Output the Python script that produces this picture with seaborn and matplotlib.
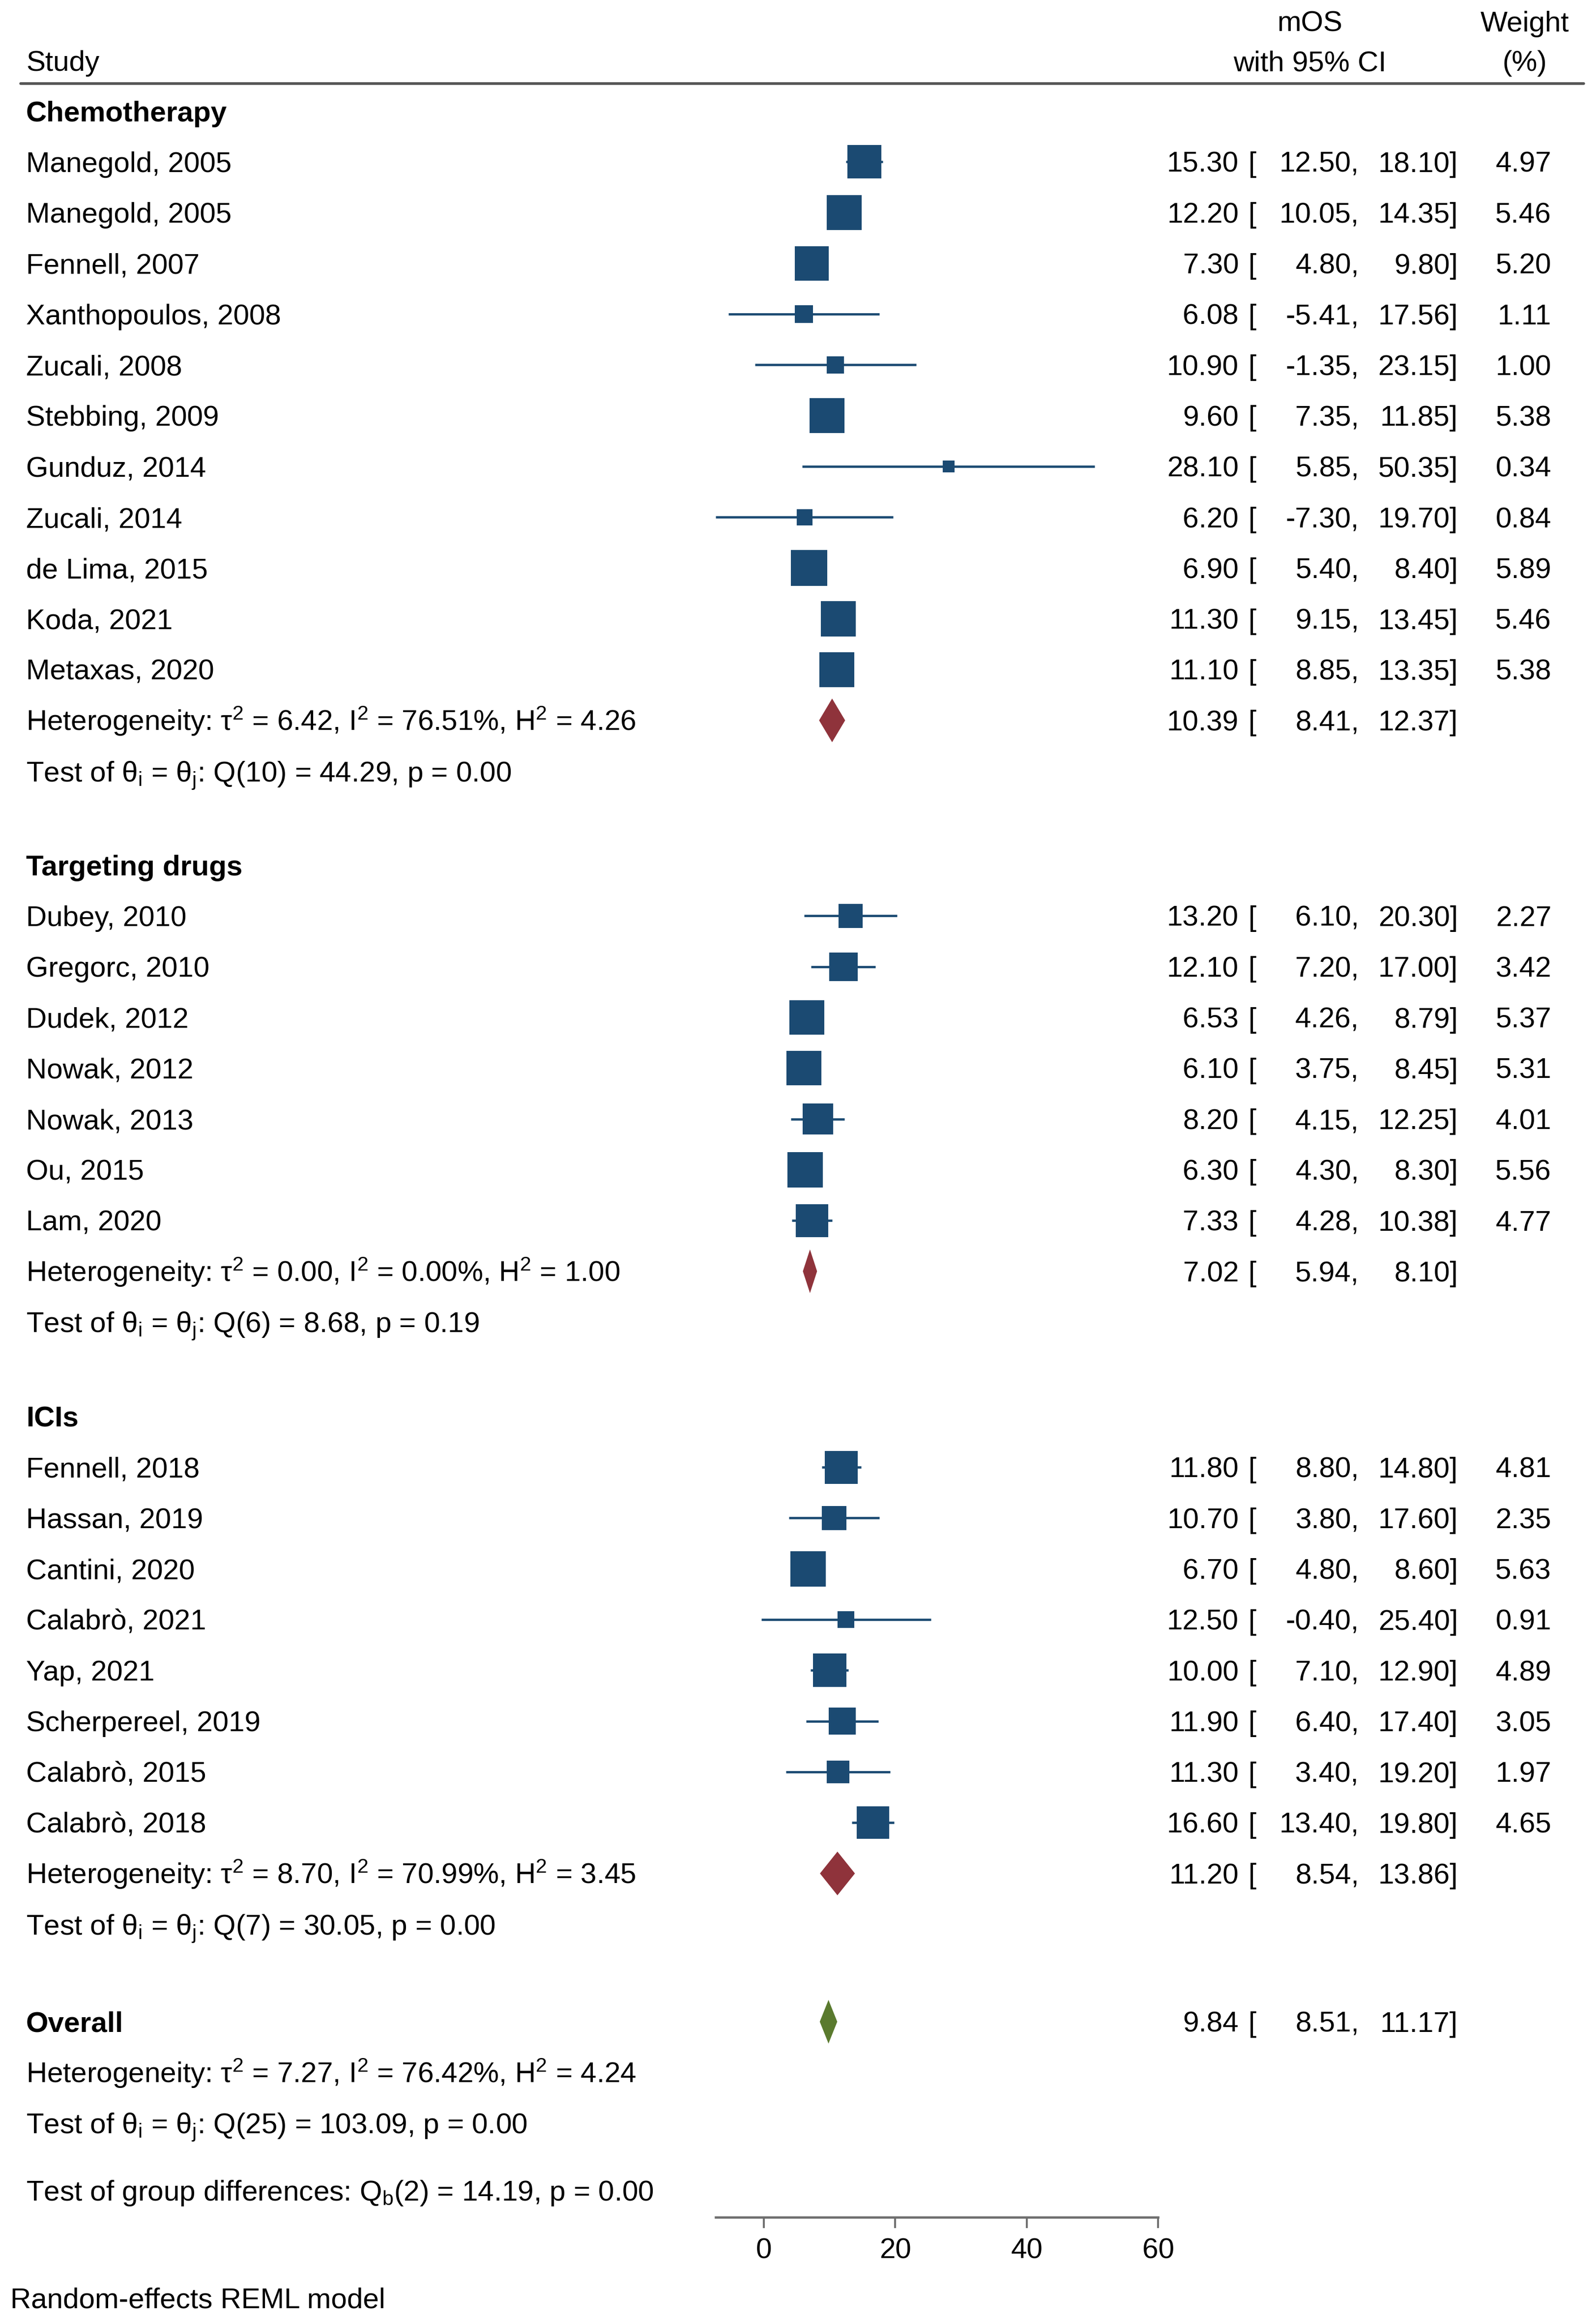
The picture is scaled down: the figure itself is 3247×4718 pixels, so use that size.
import numpy as np
import pandas as pd
import matplotlib.pyplot as plt
import seaborn as sns
from matplotlib import transforms

# --- data ---
chemo_studies = ['Manegold, 2005', 'Manegold, 2005', 'Fennell, 2007', 'Xanthopoulos, 2008',
                 'Zucali, 2008', 'Stebbing, 2009', 'Gunduz, 2014', 'Zucali, 2014',
                 'de Lima, 2015', 'Koda, 2021', 'Metaxas, 2020']
chemo_mos = [15.30, 12.20, 7.30, 6.08, 10.90, 9.60, 28.10, 6.20, 6.90, 11.30, 11.10]
chemo_lo = [12.50, 10.05, 4.80, -5.41, -1.35, 7.35, 5.85, -7.30, 5.40, 9.15, 8.85]
chemo_hi = [18.10, 14.35, 9.80, 17.56, 23.15, 11.85, 50.35, 19.70, 8.40, 13.45, 13.35]
chemo_w = [4.97, 5.46, 5.20, 1.11, 1.00, 5.38, 0.34, 0.84, 5.89, 5.46, 5.38]
chemo_pooled = [10.39, 8.41, 12.37]
chemo_het = [6.42, 76.51, 4.26]
chemo_q = [10, 44.29, 0.00]

target_studies = ['Dubey, 2010', 'Gregorc, 2010', 'Dudek, 2012', 'Nowak, 2012',
                  'Nowak, 2013', 'Ou, 2015', 'Lam, 2020']
target_mos = [13.20, 12.10, 6.53, 6.10, 8.20, 6.30, 7.33]
target_lo = [6.10, 7.20, 4.26, 3.75, 4.15, 4.30, 4.28]
target_hi = [20.30, 17.00, 8.79, 8.45, 12.25, 8.30, 10.38]
target_w = [2.27, 3.42, 5.37, 5.31, 4.01, 5.56, 4.77]
target_pooled = [7.02, 5.94, 8.10]
target_het = [0.00, 0.00, 1.00]
target_q = [6, 8.68, 0.19]

ici_studies = ['Fennell, 2018', 'Hassan, 2019', 'Cantini, 2020', 'Calabrò, 2021',
               'Yap, 2021', 'Scherpereel, 2019', 'Calabrò, 2015', 'Calabrò, 2018']
ici_mos = [11.80, 10.70, 6.70, 12.50, 10.00, 11.90, 11.30, 16.60]
ici_lo = [8.80, 3.80, 4.80, -0.40, 7.10, 6.40, 3.40, 13.40]
ici_hi = [14.80, 17.60, 8.60, 25.40, 12.90, 17.40, 19.20, 19.80]
ici_w = [4.81, 2.35, 5.63, 0.91, 4.89, 3.05, 1.97, 4.65]
ici_pooled = [11.20, 8.54, 13.86]
ici_het = [8.70, 70.99, 3.45]
ici_q = [7, 30.05, 0.00]

overall_pooled = [9.84, 8.51, 11.17]
overall_het = [7.27, 76.42, 4.24]
overall_q = [25, 103.09, 0.00]
group_diff = [2, 14.19, 0.00]

tick_values = [0, 20, 40, 60]

groups = [
    ('Chemotherapy', chemo_studies, chemo_mos, chemo_lo, chemo_hi, chemo_w, chemo_pooled, chemo_het, chemo_q),
    ('Targeting drugs', target_studies, target_mos, target_lo, target_hi, target_w, target_pooled, target_het, target_q),
    ('ICIs', ici_studies, ici_mos, ici_lo, ici_hi, ici_w, ici_pooled, ici_het, ici_q),
]
gaps_after = [1.85, 1.86, 1.92]

NAVY = '#1b4a72'
RED = '#8f333b'
GREEN = '#5a7a2e'
FS = 42
W, H = 3247, 4718

sns.set_theme(style='white')
plt.rcParams['font.family'] = ['Liberation Sans', 'DejaVu Sans']
plt.rcParams['mathtext.fontset'] = 'custom'
plt.rcParams['mathtext.rm'] = 'Liberation Sans'
plt.rcParams['mathtext.it'] = 'Liberation Sans:italic'
plt.rcParams['mathtext.bf'] = 'Liberation Sans:bold'

fig = plt.figure(figsize=(W / 100, H / 100), dpi=100)
ax = fig.add_axes([0, 0, 1, 1])
blend = transforms.blended_transform_factory(ax.transAxes, ax.transData)


def put(xpx, y, s, ha='left', **kw):
    ax.text(xpx / W, y + 0.2, s, transform=blend, ha=ha, va='baseline',
            fontsize=FS, color='black', **kw)


def nums(y, est, lo, hi, w=None):
    put(2520, y, f'{est:.2f}', ha='right')
    put(2540, y, '[')
    put(2765, y, f'{lo:.2f},', ha='right')
    put(2966, y, f'{hi:.2f}]', ha='right')
    if w is not None:
        put(3156, y, f'{w:.2f}', ha='right')


def het_text(h):
    return (f'Heterogeneity: τ$^2$ = {h[0]:.2f}, I$^2$ = {h[1]:.2f}%, '
            f'H$^2$ = {h[2]:.2f}')


def test_text(q):
    return 'Test of θ$_\\mathregular{i}$ = θ$_\\mathregular{j}$: ' + f'Q({q[0]}) = {q[1]:.2f}, p = {q[2]:.2f}'


def diamond(y, pooled, color):
    est, lo, hi = pooled
    ax.fill([lo, est, hi, est], [y, y - 0.43, y, y + 0.43], color=color, lw=0, zorder=3)


# header
put(53, -0.99, 'Study')
put(2665, -1.77, 'mOS', ha='center')
put(2665, -0.99, 'with 95% CI', ha='center')
put(3102, -1.77, 'Weight', ha='center')
put(3102, -0.99, '(%)', ha='center')
ax.axhline(-0.54, xmin=42 / W, xmax=3222 / W, color='#555555', lw=4)

# study rows
records = []
y = 0.0
for (name, studies, mos, lo, hi, w, pooled, het, q), gap in zip(groups, gaps_after):
    put(53, y, name, fontweight='bold')
    y += 1
    for s, m, l, h, ww in zip(studies, mos, lo, hi, w):
        records.append({'study': s, 'mos': m, 'lo': l, 'hi': h, 'weight': ww, 'row': y})
        put(53, y, s)
        nums(y, m, l, h, ww)
        y += 1
    put(53, y, het_text(het))
    diamond(y, pooled, RED)
    nums(y, *pooled)
    y += 1
    put(53, y, test_text(q))
    y += gap

# overall
put(53, y, 'Overall', fontweight='bold')
diamond(y, overall_pooled, GREEN)
nums(y, *overall_pooled)
y += 1
put(53, y, het_text(overall_het))
y += 1
put(53, y, test_text(overall_q))
y += 1.32
put(53, y, 'Test of group differences: Q$_\\mathregular{b}$' +
    f'({group_diff[0]}) = {group_diff[1]:.2f}, p = {group_diff[2]:.2f}')
axis_y = y + 0.53
put(21, axis_y + 1.59, 'Random-effects REML model')

df = pd.DataFrame(records)
ax.hlines(df['row'], df['lo'], df['hi'], color=NAVY, lw=3.4, zorder=2)
side_px = 27 * np.sqrt(df['weight']) + 8
sns.scatterplot(data=df, x='mos', y='row', marker='s', s=(side_px * 0.72) ** 2,
                color=NAVY, linewidth=0, edgecolor='none', legend=False, ax=ax, zorder=3)

# axes / scale
ax.set_xlim(-1554 / 13.37, (W - 1554) / 13.37)
ax.set_ylim((H - 226) / 103.3, -226 / 103.3)
ax.set_xlabel('')
ax.set_ylabel('')
ax.set_yticks([])
for side in ['top', 'left', 'right']:
    ax.spines[side].set_visible(False)
ax.spines['bottom'].set_position(('data', axis_y))
ax.spines['bottom'].set_bounds(df['lo'].min(), max(tick_values))
ax.spines['bottom'].set_color('#6e6e6e')
ax.spines['bottom'].set_linewidth(3.4)
ax.set_xticks(tick_values)
ax.tick_params(axis='x', bottom=True, direction='out', length=16, width=2.8,
               color='#6e6e6e', labelsize=FS, labelcolor='black', pad=14)
ax.grid(False)
ax.set_facecolor('white')

fig.savefig('out.png', dpi=100, facecolor='white')
